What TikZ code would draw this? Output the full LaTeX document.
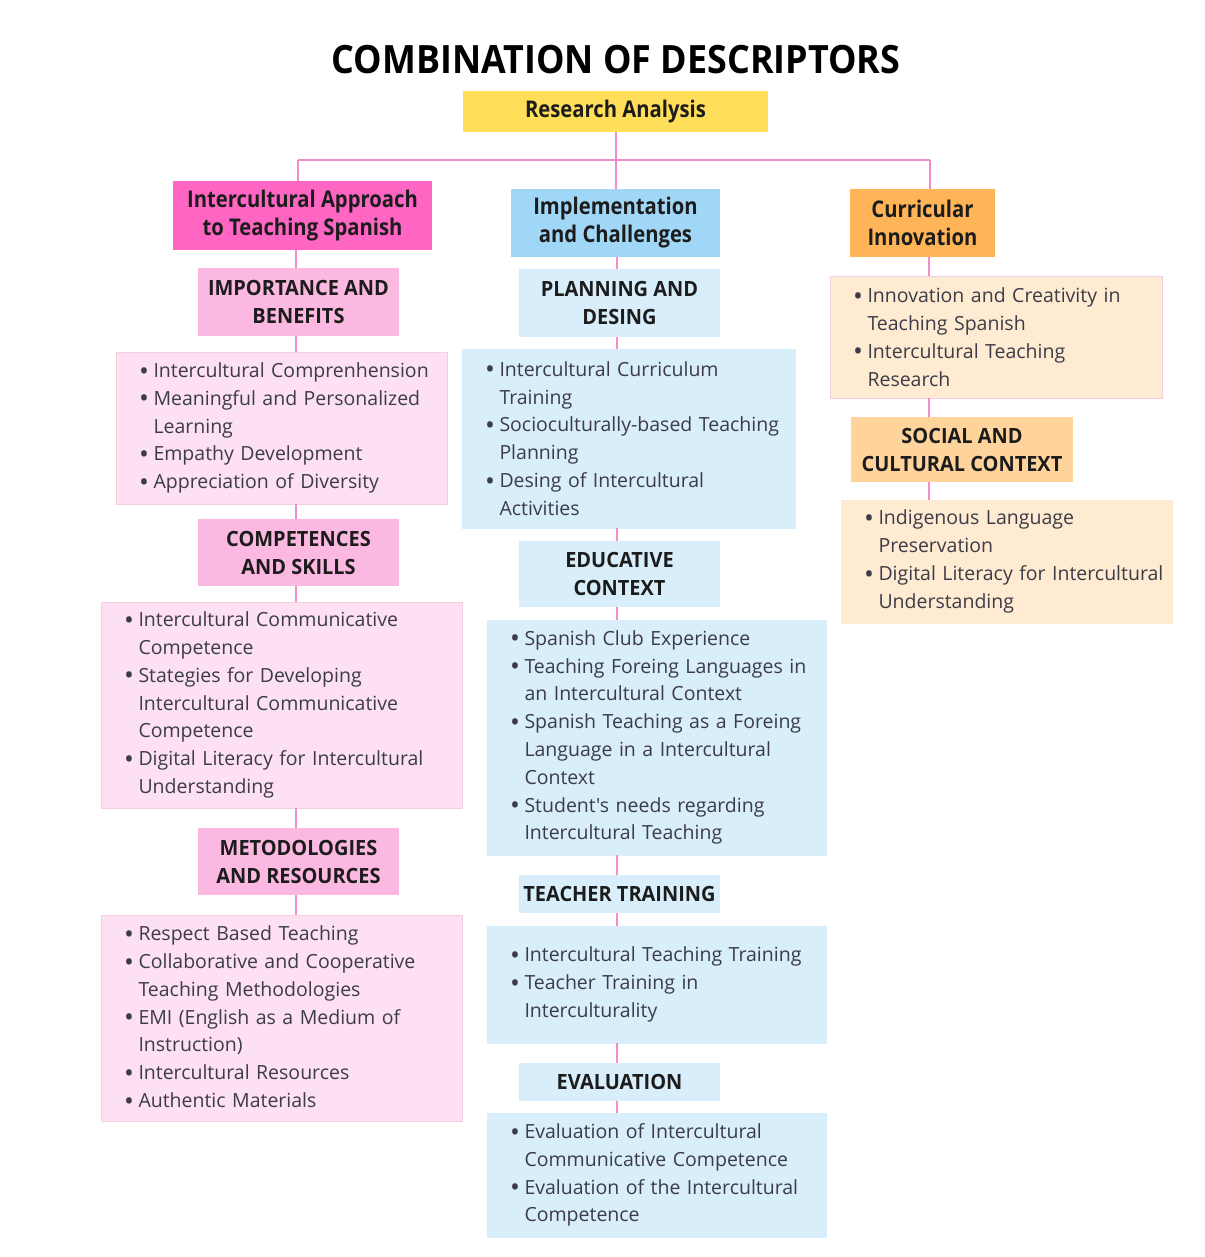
\documentclass[tikz,border=0pt]{standalone}
\usepackage{fontspec}
\setmainfont{Open Sans}
\newfontfamily\bodyfont{Open Sans}
\newfontfamily\hdfont[FakeStretch=0.88]{Open Sans}
\newfontfamily\capfont[FakeStretch=0.95]{Open Sans}
\newfontfamily\titlefont[FakeStretch=0.92]{Open Sans}
\definecolor{cyellow}{HTML}{FFDE59}
\definecolor{chot}{HTML}{FF66C4}
\definecolor{cblueh}{HTML}{A0D6F6}
\definecolor{corange}{HTML}{FFB457}
\definecolor{csubpink}{HTML}{FBB8E1}
\definecolor{clistpink}{HTML}{FDE1F2}
\definecolor{cblue}{HTML}{D9EEFB}
\definecolor{cpeach}{HTML}{FFEBD1}
\definecolor{cpeachsub}{HTML}{FFD49C}
\definecolor{cline}{HTML}{F28DC6}
\definecolor{cborder}{HTML}{F6CDE3}
\definecolor{ctext}{HTML}{3C3C48}
\definecolor{chead}{HTML}{1C1C1C}
\newcommand\bi[1]{\mbox{\makebox[13.5pt][l]{\hspace*{-1pt}\raisebox{-2.6pt}{\scalebox{1.35}{\textbullet}}}#1}}
\newcommand\ci[1]{\mbox{\hspace*{13.5pt}#1}}
\begin{document}
\begin{tikzpicture}[x=1pt,y=-1pt,
  every node/.style={inner sep=0pt, outer sep=0pt},
  boxbase/.style={rectangle, align=center, text=chead},
  colhead/.style={boxbase, font=\hdfont\bfseries\fontsize{23}{28}\selectfont},
  subhead/.style={boxbase, font=\capfont\bfseries\fontsize{21}{28}\selectfont},
  listbox/.style={rectangle, draw=cborder, line width=0.8pt, align=left, text=ctext,
     inner xsep=24pt, font=\bodyfont\fontsize{19.5}{27.8}\selectfont},
  conn/.style={draw=cline, line width=2pt}
]
\useasboundingbox[fill=white] (0,0) rectangle (1204,1257);

% title
\node[font=\titlefont\bfseries\fontsize{39}{44}\selectfont, text=black] (title) at (616,60) {COMBINATION OF DESCRIPTORS};

% top
\node[boxbase, fill=cyellow, minimum width=305pt, minimum height=41pt,
  font=\hdfont\bfseries\fontsize{23}{28}\selectfont] (ra) at (615.5,111.5) {Research Analysis};

% column headers
\node[colhead, fill=chot, minimum width=259pt, minimum height=69pt] (h1) at (302.5,215.5) {Intercultural Approach\\to Teaching Spanish};
\node[colhead, fill=cblueh, minimum width=209pt, minimum height=68pt] (h2) at (615.5,223) {Implementation\\and Challenges};
\node[colhead, fill=corange, minimum width=145pt, minimum height=68pt] (h3) at (922.5,223) {Curricular\\Innovation};

% column 1
\node[subhead, fill=csubpink, minimum width=201pt, minimum height=68pt] (s11) at (298.5,302) {IMPORTANCE AND\\BENEFITS};
\node[listbox, fill=clistpink, minimum width=331pt, minimum height=152pt, text width=283pt] (l11) at (281.5,428) {%
\bi{Intercultural Comprenhension}\\
\bi{Meaningful and Personalized}\\
\ci{Learning}\\
\bi{Empathy Development}\\
\bi{Appreciation of Diversity}};
\node[subhead, fill=csubpink, minimum width=201pt, minimum height=67pt] (s12) at (298.5,552.5) {COMPETENCES\\AND SKILLS};
\node[listbox, fill=clistpink, minimum width=361pt, minimum height=206pt, text width=313pt] (l12) at (281.5,705) {%
\bi{Intercultural Communicative}\\
\ci{Competence}\\
\bi{Stategies for Developing}\\
\ci{Intercultural Communicative}\\
\ci{Competence}\\
\bi{Digital Literacy for Intercultural}\\
\ci{Understanding}};
\node[subhead, fill=csubpink, minimum width=201pt, minimum height=67pt] (s13) at (298.5,861.5) {METODOLOGIES\\AND RESOURCES};
\node[listbox, fill=clistpink, minimum width=361pt, minimum height=206pt, text width=313pt] (l13) at (281.5,1018) {%
\bi{Respect Based Teaching}\\
\bi{Collaborative and Cooperative}\\
\ci{Teaching Methodologies}\\
\bi{EMI (English as a Medium of}\\
\ci{Instruction)}\\
\bi{Intercultural Resources}\\
\bi{Authentic Materials}};

% column 2
\node[subhead, fill=cblue, minimum width=201pt, minimum height=68pt] (s21) at (619.5,303) {PLANNING AND\\DESING};
\node[listbox, draw=cblue, fill=cblue, minimum width=333pt, minimum height=179pt, text width=285pt] (l21) at (628.5,438.5) {%
\bi{Intercultural Curriculum}\\
\ci{Training}\\
\bi{Socioculturally-based Teaching}\\
\ci{Planning}\\
\bi{Desing of Intercultural}\\
\ci{Activities}};
\node[subhead, fill=cblue, minimum width=201pt, minimum height=66pt] (s22) at (619.5,574) {EDUCATIVE\\CONTEXT};
\node[listbox, draw=cblue, fill=cblue, minimum width=339pt, minimum height=235pt, text width=291pt] (l22) at (656.5,737.5) {%
\bi{Spanish Club Experience}\\
\bi{Teaching Foreing Languages in}\\
\ci{an Intercultural Context}\\
\bi{Spanish Teaching as a Foreing}\\
\ci{Language in a Intercultural}\\
\ci{Context}\\
\bi{Student's needs regarding}\\
\ci{Intercultural Teaching}};
\node[subhead, fill=cblue, minimum width=201pt, minimum height=38pt] (s23) at (619.5,894) {TEACHER TRAINING};
\node[listbox, draw=cblue, fill=cblue, minimum width=339pt, minimum height=117pt, text width=291pt] (l23) at (656.5,984.5) {%
\bi{Intercultural Teaching Training}\\
\bi{Teacher Training in}\\
\ci{Interculturality}};
\node[subhead, fill=cblue, minimum width=201pt, minimum height=38pt] (s24) at (619.5,1082) {EVALUATION};
\node[listbox, draw=cblue, fill=cblue, minimum width=339pt, minimum height=124pt, text width=291pt] (l24) at (656.5,1175) {%
\bi{Evaluation of Intercultural}\\
\ci{Communicative Competence}\\
\bi{Evaluation of the Intercultural}\\
\ci{Competence}};

% column 3
\node[listbox, fill=cpeach, minimum width=332pt, minimum height=122pt, text width=284pt] (l31) at (996,337) {%
\bi{Innovation and Creativity in}\\
\ci{Teaching Spanish}\\
\bi{Intercultural Teaching}\\
\ci{Research}};
\node[subhead, fill=cpeachsub, minimum width=222pt, minimum height=65pt] (s32) at (962,449.5) {SOCIAL AND\\CULTURAL CONTEXT};
\node[listbox, draw=cpeach, fill=cpeach, minimum width=331pt, minimum height=123pt, text width=283pt] (l32) at (1006.5,561.5) {%
\bi{Indigenous Language}\\
\ci{Preservation}\\
\bi{Digital Literacy for Intercultural}\\
\ci{Understanding}};

% connectors
\coordinate (j1) at (298,160);
\coordinate (jm) at (615.5,160);
\coordinate (j3) at (930,160);
\coordinate (x1) at (296,0);
\coordinate (x2) at (617,0);
\coordinate (x3) at (929,0);
\draw[conn] (ra.south) -- (jm);
\draw[conn] (j1) -- (j3);
\draw[conn] (j1) -- (j1 |- h1.north);
\draw[conn] (jm) -- (h2.north);
\draw[conn] (j3) -- (j3 |- h3.north);

\draw[conn] (x1 |- h1.south) -- (x1 |- s11.north);
\draw[conn] (x1 |- s11.south) -- (x1 |- l11.north);
\draw[conn] (x1 |- l11.south) -- (x1 |- s12.north);
\draw[conn] (x1 |- s12.south) -- (x1 |- l12.north);
\draw[conn] (x1 |- l12.south) -- (x1 |- s13.north);
\draw[conn] (x1 |- s13.south) -- (x1 |- l13.north);

\draw[conn] (x2 |- h2.south) -- (x2 |- s21.north);
\draw[conn] (x2 |- s21.south) -- (x2 |- l21.north);
\draw[conn] (x2 |- l21.south) -- (x2 |- s22.north);
\draw[conn] (x2 |- s22.south) -- (x2 |- l22.north);
\draw[conn] (x2 |- l22.south) -- (x2 |- s23.north);
\draw[conn] (x2 |- s23.south) -- (x2 |- l23.north);
\draw[conn] (x2 |- l23.south) -- (x2 |- s24.north);
\draw[conn] (x2 |- s24.south) -- (x2 |- l24.north);

\draw[conn] (x3 |- h3.south) -- (x3 |- l31.north);
\draw[conn] (x3 |- l31.south) -- (x3 |- s32.north);
\draw[conn] (x3 |- s32.south) -- (x3 |- l32.north);
\end{tikzpicture}
\end{document}
